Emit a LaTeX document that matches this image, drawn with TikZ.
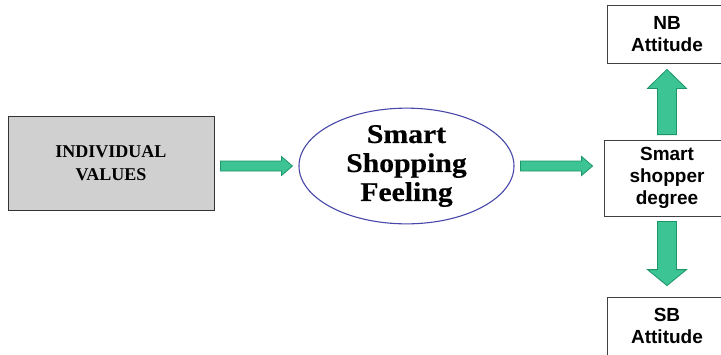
\documentclass[tikz,border=0pt]{standalone}
\usepackage{fontspec}
\setmainfont{Liberation Serif}
\setsansfont{Liberation Sans}
\usetikzlibrary{shapes.geometric,positioning,calc}
\definecolor{arrowfill}{RGB}{61,196,148}
\definecolor{arrowline}{RGB}{28,150,104}
\definecolor{ovalline}{RGB}{72,72,170}
\definecolor{valuefill}{RGB}{208,208,208}
\tikzstyle{valori} = [rectangle, draw=black!80, fill=valuefill, line width=0.9pt,
minimum width=206pt, minimum height=94pt, text centered, align=center,
font=\fontsize{18}{23}\selectfont\bfseries]
\tikzstyle{sentimento} = [ellipse, draw=ovalline, line width=1.1pt, inner sep=0pt,
minimum width=215pt, minimum height=110pt, text centered, align=center,
font=\fontsize{27}{29}\selectfont\bfseries\addfontfeature{FakeStretch=1.1,FakeBold=0.4}]
\tikzstyle{blocco} = [rectangle, draw=black!75, line width=0.8pt, text centered, align=center,
font=\fontsize{19}{22}\selectfont\sffamily\bfseries]
\tikzset{
  fa gap/.code 2 args={\def\fastart{#1}\def\faend{#2}},
  fa gap={6pt}{6pt},
  fatarrow/.style n args={3}{draw=arrowline, fill=arrowfill, line width=0.8pt, line join=miter,
    to path={let \p1=($(\tikztostart)!\fastart!(\tikztotarget)$),
                 \p2=($(\tikztotarget)!\faend!(\tikztostart)$),
                 \p3=($(\p2)!#3!(\p1)$) in
      ($(\p1)!#1!90:(\p2)$) -- ($(\p3)!#1!90:(\p2)$) -- ($(\p3)!#2!90:(\p2)$) -- (\p2)
      -- ($(\p3)!#2!-90:(\p2)$) -- ($(\p3)!#1!-90:(\p2)$) -- ($(\p1)!#1!-90:(\p2)$) -- cycle}}
}

\begin{document}
\begin{tikzpicture}[x=1pt, y=-1pt]
				\useasboundingbox (0,0) rectangle (721,354);
				\node (iv) at (111,163) [valori] {INDIVIDUAL\\VALUES};
				\node (ssf) at (406.5,166) [sentimento] {Smart\\Shopping\\Feeling};
				\node (ssd) at (667,178) [blocco, minimum width=126pt, minimum height=76pt] {Smart\\shopper\\degree};
				\node (nb) at (667,34) [blocco, minimum width=120pt, minimum height=58pt] {NB\\Attitude};
				\node (sb) at (667,326) [blocco, minimum width=120pt, minimum height=58pt] {SB\\Attitude};
				\draw[fatarrow={5pt}{9.5pt}{11pt}, fa gap={6pt}{6pt}] (ssf.west -| iv.east) to (ssf.west);
				\draw[fatarrow={5pt}{9.5pt}{11pt}, fa gap={6pt}{11pt}] (ssf.east) to (ssf.east -| ssd.west);
				\draw[fatarrow={9.5pt}{19.5pt}{19pt}, fa gap={5pt}{6pt}] (ssd.north) to (nb.south);
				\draw[fatarrow={9.5pt}{19.5pt}{16pt}, fa gap={5pt}{11pt}] (ssd.south) to (sb.north);
				\end{tikzpicture}
\end{document}
